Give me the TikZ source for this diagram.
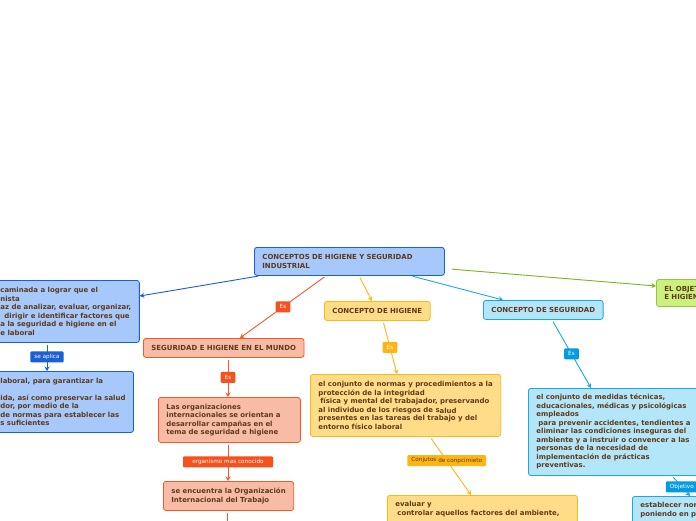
\documentclass[tikz,border=0pt]{standalone}
\usepackage{fontspec}
\usepackage{tikz}
\usetikzlibrary{arrows.meta}

\newfontfamily\dejavu{DejaVu Sans}
\newcommand{\boxfont}{\dejavu\bfseries\fontsize{6.95}{8.5}\selectfont}
\newcommand{\tagfont}{\dejavu\fontsize{5.7}{6.5}\selectfont}

\definecolor{txt}{HTML}{5D3A1A}
\definecolor{bluefill}{HTML}{A6C8FB}
\definecolor{bluedraw}{HTML}{1A5FD6}
\definecolor{orangefill}{HTML}{F8BBA6}
\definecolor{orangedraw}{HTML}{F4592A}
\definecolor{orangetag}{HTML}{F4511E}
\definecolor{yellowfill}{HTML}{FFDC88}
\definecolor{yellowdraw}{HTML}{FDB818}
\definecolor{yellowtag}{HTML}{FDB515}
\definecolor{cyanfill}{HTML}{B4E6FA}
\definecolor{cyandraw}{HTML}{1BA8E8}
\definecolor{cyantag}{HTML}{039BE5}
\definecolor{greenfill}{HTML}{CCF07E}
\definecolor{greendraw}{HTML}{7CB518}

\begin{document}
\begin{tikzpicture}[
                    x=1pt, y=-1pt,
                    >={Stealth[length=4.5pt,width=5pt]},
                    box/.style={
                        rectangle,
                        rounded corners=2.5pt,
                        draw,
                        line width=0.8pt,
                        inner xsep=8pt,
                        inner ysep=3pt,
                        align=left,
                        anchor=north west,
                        text=txt,
                        font=\boxfont
                    },
                    bluebox/.style={box, draw=bluedraw, fill=bluefill},
                    orangebox/.style={box, draw=orangedraw, fill=orangefill},
                    yellowbox/.style={box, draw=yellowdraw, fill=yellowfill},
                    cyanbox/.style={box, draw=cyandraw, fill=cyanfill},
                    greenbox/.style={box, draw=greendraw!80, fill=greenfill},
                    tag/.style={
                        rectangle,
                        rounded corners=1pt,
                        inner xsep=4pt,
                        inner ysep=0pt,
                        minimum height=11pt,
                        text=white,
                        font=\tagfont
                    },
                    link/.style={->, line width=0.9pt, shorten <=2pt}
                ]

                    \useasboundingbox (0,0) rectangle (696,520);
                    \fill[white] (0,0) rectangle (696,520);
                    \clip (0,0) rectangle (696,520);

                    \node[bluebox, text width=174pt, minimum height=28pt] (root) at (254,247)
                        {CONCEPTOS DE HIGIENE Y SEGURIDAD\\INDUSTRIAL};

                    \node[bluebox, minimum height=62pt] (materia) at (-8,280)
                        {caminada a lograr que el\\nista\\az de analizar, evaluar, organizar,\\\hspace*{4pt}dirigir e identificar factores que\\a la seguridad e higiene en el\\e laboral};
                    \node[bluebox, minimum height=61pt] (entorno) at (-8,371)
                        {laboral, para garantizar la\\\mbox{}\\ida, así como preservar la salud\\dor, por medio de la\\de normas para establecer las\\s suficientes};

                    \node[orangebox, minimum height=19pt] (mundo) at (143,338) {SEGURIDAD E HIGIENE EN EL MUNDO};
                    \node[orangebox, text width=126pt, minimum height=45pt] (organiz) at (158,397)
                        {Las organizaciones\\internacionales se orientan a\\desarrollar campañas en el\\tema de seguridad e higiene};
                    \node[orangebox, minimum height=29pt] (oit) at (163,481)
                        {se encuentra la Organización\\Internacional del Trabajo};
                    \coordinate (oitnext) at (227,540);

                    \node[yellowbox, minimum height=19pt] (higiene) at (324,301) {CONCEPTO DE HIGIENE};
                    \node[yellowbox, minimum height=62pt] (defhig) at (310,374)
                        {el conjunto de normas y procedimientos a la\\protección de la integridad\\\hspace*{2pt}física y mental del trabajador, preservando\\al individuo de los riesgos de s\raisebox{-1pt}{alud}\\presentes en las tareas del trabajo y del\\entorno físico laboral};
                    \node[yellowbox, text width=174pt, inner ysep=6pt] (evaluar) at (387,495)
                        {evaluar y\\\hspace*{2pt}controlar aquellos factores del ambiente,\\\mbox{}\\\mbox{}};

                    \node[cyanbox, minimum height=19pt] (seguridad) at (483,300) {CONCEPTO DE SEGURIDAD};
                    \node[cyanbox, minimum height=87pt] (defseg) at (528,388)
                        {el conjunto de medidas técnicas,\\educacionales, médicas y psicológicas\\empleados\\\hspace*{2pt}para prevenir accidentes, tendientes a\\eliminar las condiciones inseguras del\\ambiente y a instruir o convencer a las\\personas de la necesidad de\\implementación de prácticas\\preventivas.};
                    \node[cyanbox, text width=150pt, inner ysep=6pt] (normas) at (632,496)
                        {establecer normas\\poniendo en práctica\\\mbox{}};

                    \node[greenbox, text width=150pt, minimum height=27pt] (objetivo) at (656,279)
                        {EL OBJETIVO DE LA SEGURIDAD\\E HIGIENE};

                    % Edges
                    \draw[link, bluedraw] ([xshift=6pt]root.south west) -- ([yshift=-16pt]materia.north east);
                    \draw[link, bluedraw] ([xshift=55pt]materia.south west) -- node[tag, fill=bluedraw] (aplica) {se aplica} ([xshift=55pt]entorno.north west);
                    \draw[link, orangedraw] ([xshift=72pt]root.south west) -- node[tag, fill=orangetag] (es1) {Es} ([xshift=97pt]mundo.north west);
                    \draw[link, orangedraw] ([xshift=85pt]mundo.south west) -- node[tag, fill=orangetag] (es2) {Es} ([xshift=70pt]organiz.north west);
                    \draw[link, orangedraw] ([xshift=70pt]organiz.south west) -- node[tag, fill=orangetag, minimum width=90pt] (conocido) {organismo mas conocido} ([xshift=65pt]oit.north west);
                    \draw[link, orangedraw] ([xshift=64pt]oit.south west) -- (oitnext);
                    \draw[link, yellowdraw] ([xshift=105pt]root.south west) -- ([xshift=48pt]higiene.north west);
                    \draw[link, yellowdraw] ([xshift=59pt]higiene.south west) -- node[tag, fill=yellowtag] (es3) {Es} ([xshift=87pt]defhig.north west);
                    \draw[link, yellowdraw] ([xshift=120pt]defhig.south west) -- node[tag, fill=yellowtag, text=txt, pos=0.41] (conjuntos) {Conjutos \raisebox{-0.6pt}{de conpcimieto}} ([xshift=84pt]evaluar.north west);
                    \draw[link, cyandraw] ([xshift=157pt]root.south west) -- ([xshift=20pt]seguridad.north west);
                    \draw[link, cyandraw] ([xshift=69pt]seguridad.south west) -- node[tag, fill=cyantag] (es4) {Es} ([xshift=63pt]defseg.north west);
                    \draw[link, cyandraw] ([xshift=144pt]defseg.south west) -- node[tag, fill=cyantag, pos=0.55] (objlbl) {Objetivo} ([xshift=58pt]normas.north west);
                    \draw[link, greendraw] ([xshift=5pt, yshift=-22pt]root.north east) -- ([yshift=-7pt]objetivo.north west);
                \end{tikzpicture}
\end{document}
